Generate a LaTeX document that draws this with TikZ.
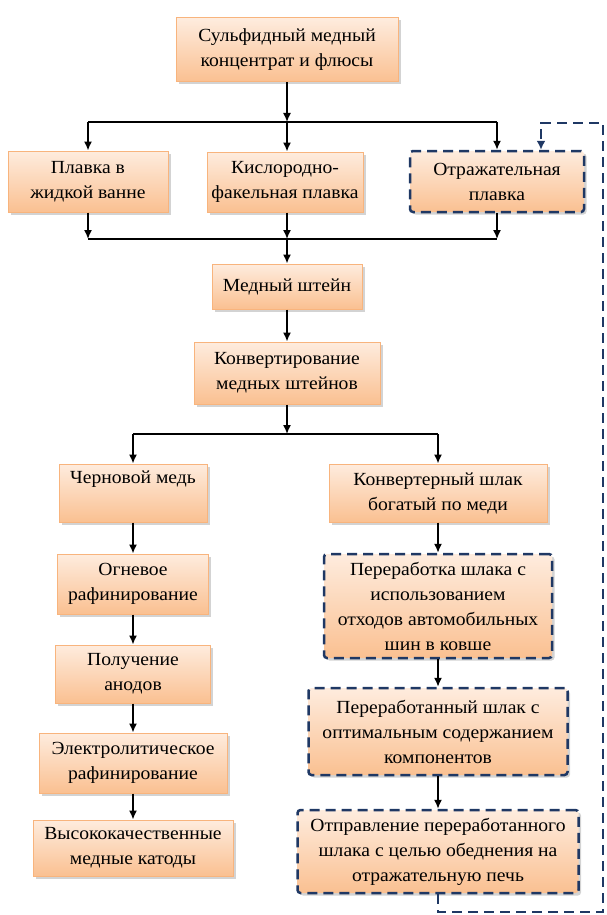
\documentclass[tikz,border=0pt]{standalone}
\usepackage{fontspec}
\setmainfont{Liberation Serif}[FakeStretch=1.06]
\usepackage{tikz}
\usetikzlibrary{shadows,arrows.meta}
\definecolor{peachtop}{RGB}{254,236,222}
\definecolor{peachbot}{RGB}{250,192,145}
\definecolor{peachline}{RGB}{248,180,125}
\definecolor{navy}{RGB}{31,56,100}

\begin{document}
\begin{tikzpicture}[x=1pt,y=-1pt]
\tikzstyle{stage}=[rectangle, draw=peachline, line width=1pt, top color=peachtop, bottom color=peachbot, drop shadow={shadow xshift=2.5pt,shadow yshift=-2.5pt,opacity=0.35}, align=center, inner sep=0pt, font=\fontsize{18.5}{25}\selectfont]
\tikzstyle{dstage}=[stage, draw=navy, line width=2.5pt, dash pattern=on 10pt off 6pt, rounded corners=3pt]
\tikzstyle{connect}=[-{Latex[length=9pt,width=8pt]}, line width=1.5pt]
\tikzstyle{plain}=[line width=1.5pt]
\tikzstyle{back}=[-{Latex[length=9pt,width=9pt]}, line width=2.5pt, draw=navy, dash pattern=on 10pt off 6pt]
\useasboundingbox (0,0) rectangle (606,915);
	\node[stage, minimum width=222, minimum height=64] (conc) at (287,50) {Сульфидный медный\\концентрат и флюсы};
	\node[stage, minimum width=160, minimum height=61] (bath) at (88,181.5) {Плавка в\\жидкой ванне};
	\node[stage, minimum width=156, minimum height=60] (flash) at (285,182) {Кислородно-\\факельная плавка};
	\node[dstage, minimum width=174, minimum height=61] (refl) at (497,181.5) {Отражательная\\плавка};
	\node[stage, minimum width=150, minimum height=45] (matte) at (287,286.5) {Медный штейн};
	\node[stage, minimum width=186, minimum height=62] (conv) at (287,373) {Конвертирование\\медных штейнов};
	\node[stage, minimum width=148, minimum height=58] (blister) at (133,493) {Черновой медь\\\strut};
	\node[stage, minimum width=218, minimum height=58] (slag) at (438,493) {Конвертерный шлак\\богатый по меди};
	\node[stage, minimum width=151, minimum height=60] (fire) at (133,584) {Огневое\\рафинирование};
	\node[stage, minimum width=155, minimum height=58] (anode) at (133,674) {Получение\\анодов};
	\node[stage, minimum width=188, minimum height=60] (electro) at (133,763) {Электролитическое\\рафинирование};
	\node[stage, minimum width=200, minimum height=56] (cathode) at (133,848) {Высококачественные\\медные катоды};
	\node[dstage, minimum width=228, minimum height=104] (treat) at (438,606) {Переработка шлака с\\использованием\\отходов автомобильных\\шин в ковше};
	\node[dstage, minimum width=259, minimum height=87] (treated) at (438,731.5) {Переработанный шлак с\\оптимальным содержанием\\компонентов};
	\node[dstage, minimum width=281, minimum height=83] (send) at (438,851.5) {Отправление переработанного\\шлака с целью обеднения на\\отражательную печь};

	\coordinate (split) at (287,122);
	\coordinate (merge) at (287,239);
	\coordinate (fork) at (287,434);
	\coordinate (loopa) at (603,912);
	\coordinate (loopb) at (603,123);
	\coordinate (loopc) at (541,123);

	\draw[connect] (conc) -- (split);
	\draw[plain] (bath.north |- split) -- (refl.north |- split);
	\draw[connect] (bath.north |- split) -- (bath);
	\draw[connect] (split) -- (flash.north -| split);
	\draw[connect] (refl.north |- split) -- (refl);

	\draw[connect] (bath) -- (bath.south |- merge);
	\draw[connect] (flash.south -| merge) -- (merge);
	\draw[connect] (refl) -- (refl.south |- merge);
	\draw[plain] (bath.south |- merge) -- (refl.south |- merge);
	\draw[connect] (merge) -- (matte);

	\path
		(matte) edge [connect] (conv)
		(conv) edge [connect] (fork);
	\draw[plain] (blister.north |- fork) -- (slag.north |- fork);
	\draw[connect] (blister.north |- fork) -- (blister);
	\draw[connect] (slag.north |- fork) -- (slag);

	\path
		(blister) edge [connect] (fire)
		(fire) edge [connect] (anode)
		(anode) edge [connect] (electro)
		(electro) edge [connect] (cathode)
		(slag) edge [connect] (treat)
		(treat) edge [connect] (treated)
		(treated) edge [connect] (send);

	\draw[back] (send.south) -- (send.south |- loopa) -- (loopa) -- (loopb) -- (loopc) -- (loopc |- refl.north);
\end{tikzpicture}
\end{document}
